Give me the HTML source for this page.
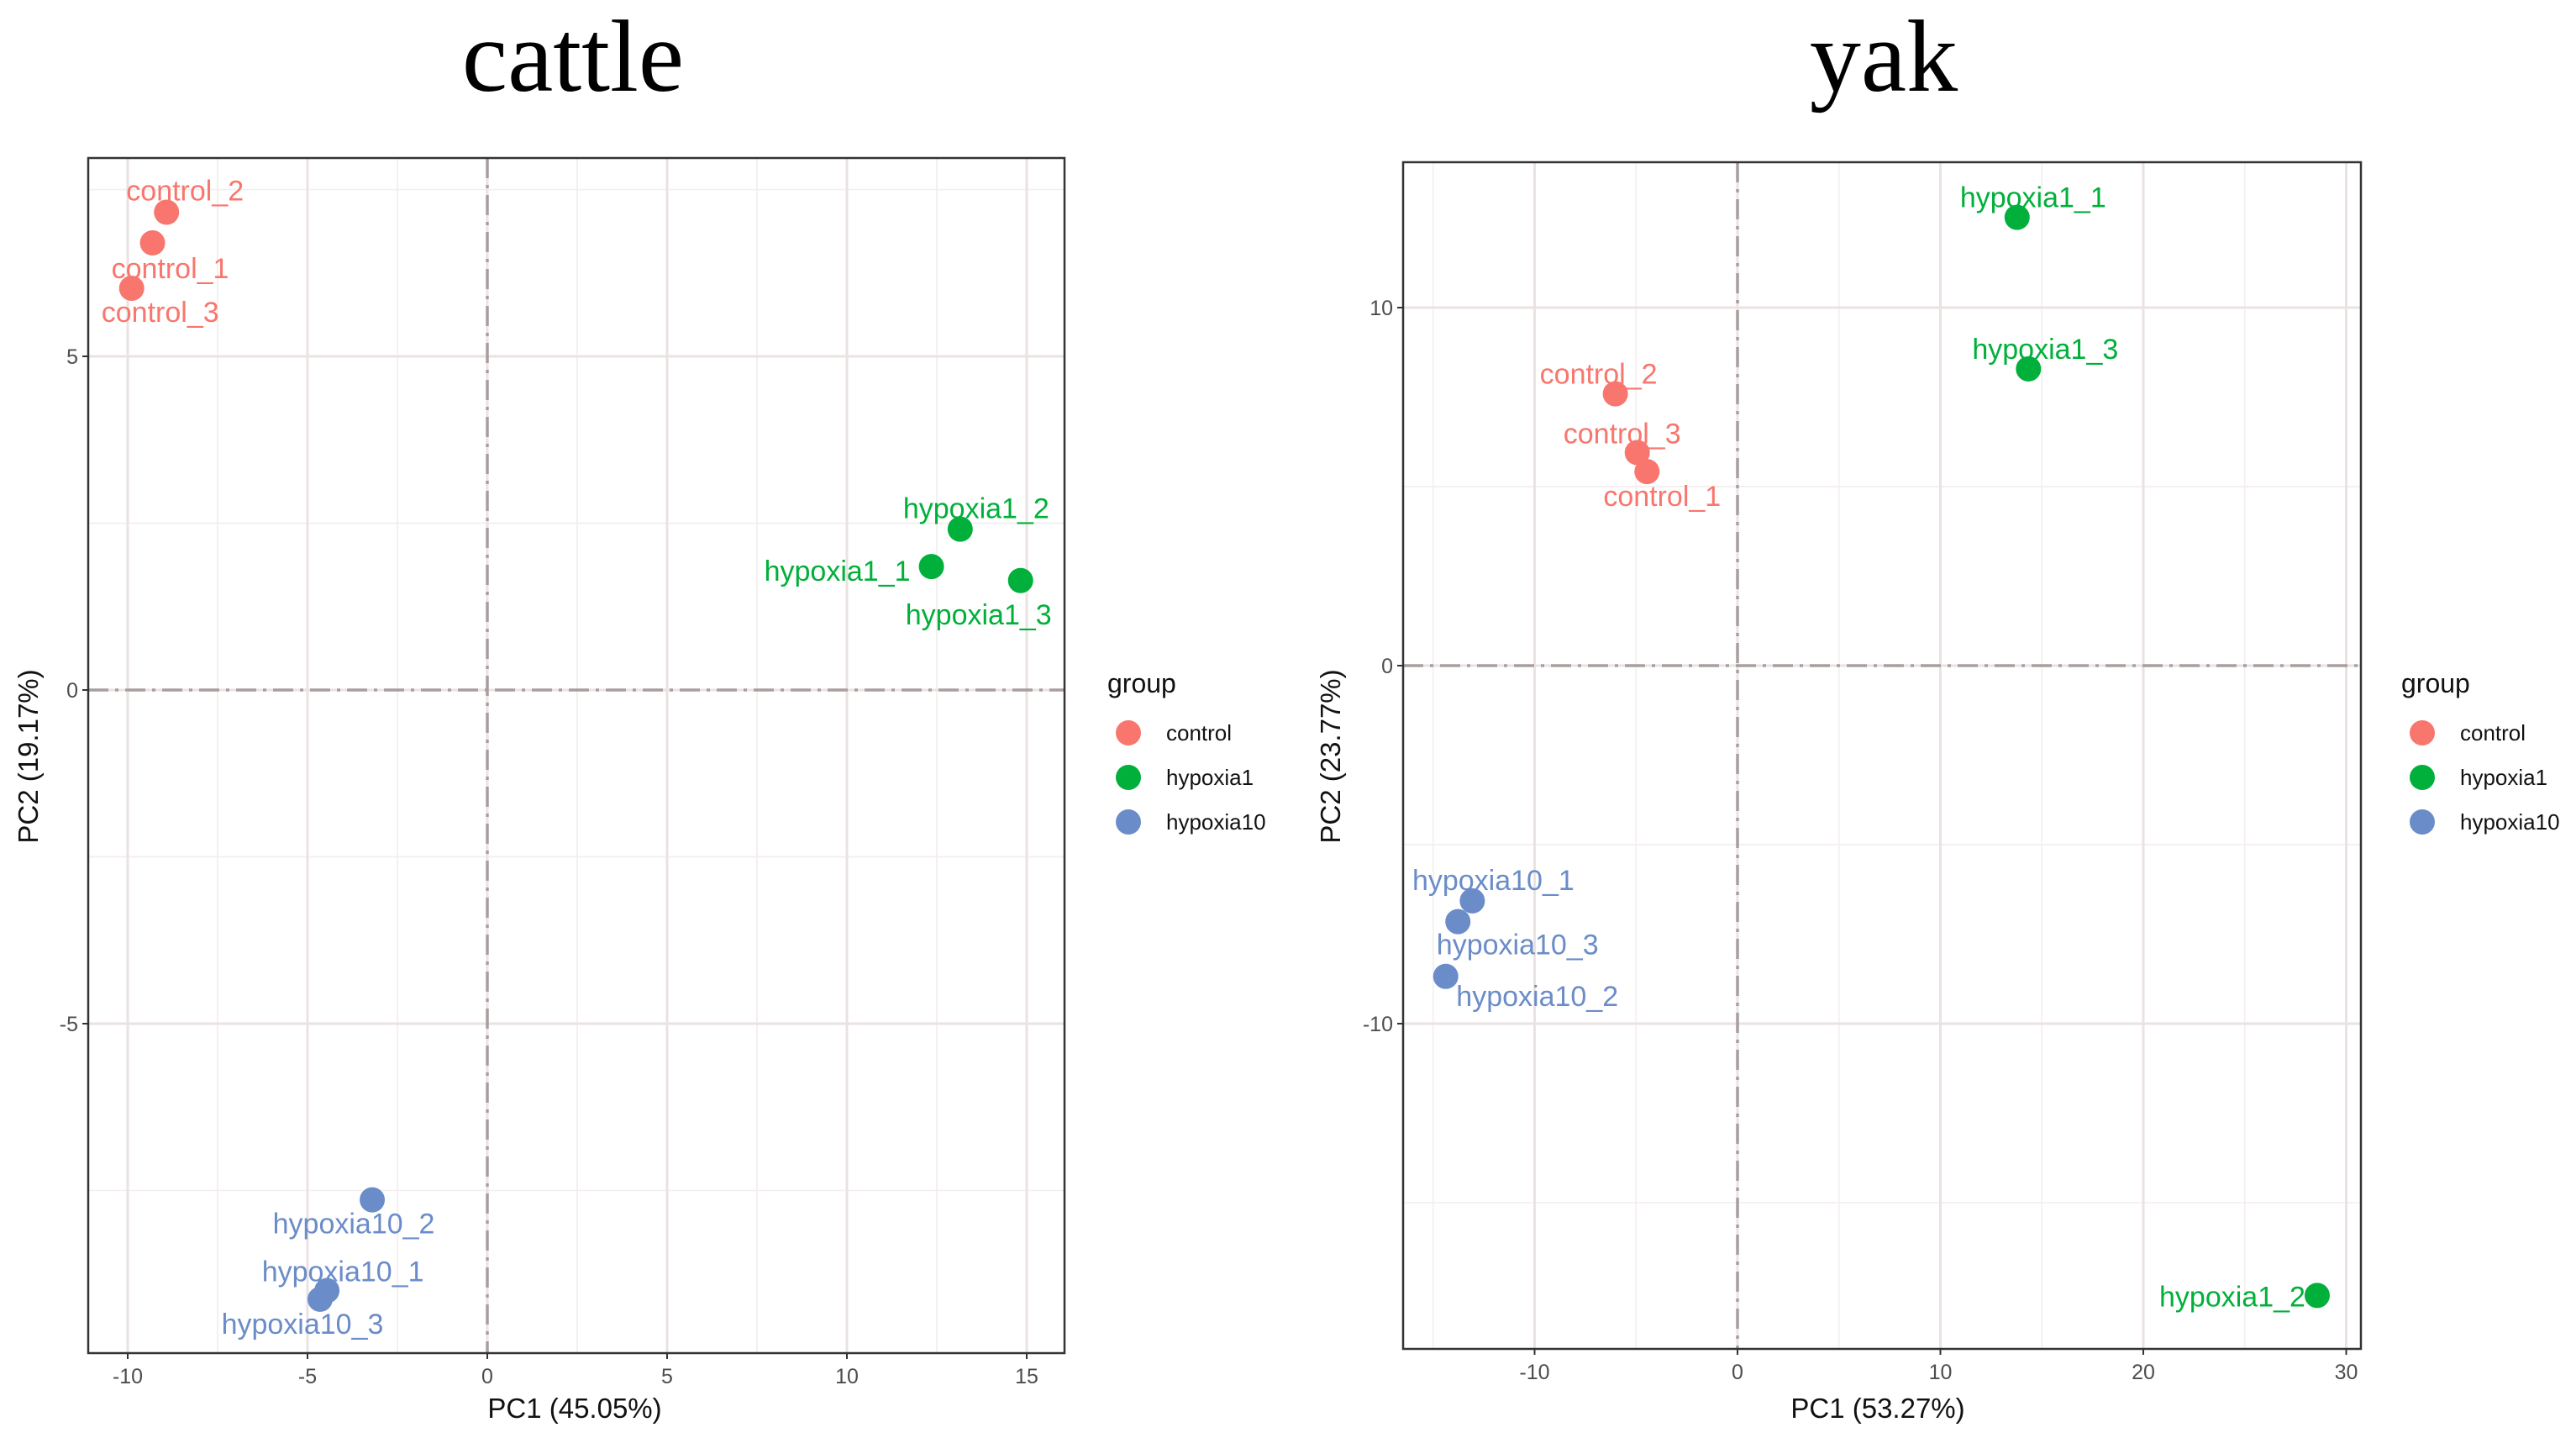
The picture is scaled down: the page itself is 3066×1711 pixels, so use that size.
<!DOCTYPE html>
<html><head><meta charset="utf-8">
<style>
html,body{margin:0;padding:0;background:#fff;}
svg{display:block;font-family:"Liberation Sans",Arial,sans-serif;}
</style></head>
<body>
<svg id="root" width="3066" height="1711" viewBox="0 0 3066 1711" xmlns="http://www.w3.org/2000/svg">
<text x="682" y="108" font-family="Liberation Serif,serif" font-size="122" text-anchor="middle" fill="#000">cattle</text>
<text x="2242" y="108" font-family="Liberation Serif,serif" font-size="122" text-anchor="middle" fill="#000">yak</text>
</svg>
<script>
// ---- data ----
const groups = ["control","hypoxia1","hypoxia10"];
const groupColors = ["#F8766D","#00B03A","#6A8CC8"];

const cattleNames = ["control_2","control_1","control_3","hypoxia1_2","hypoxia1_1","hypoxia1_3","hypoxia10_2","hypoxia10_1","hypoxia10_3"];
const cattleGroup = [0,0,0,1,1,1,2,2,2];
const cattlePC1 = [-8.92,-9.31,-9.89,13.15,12.35,14.83,-3.2,-4.46,-4.65];
const cattlePC2 = [7.16,6.70,6.02,2.41,1.85,1.64,-7.64,-9.0,-9.13];
const cattleXTicks = [-10,-5,0,5,10,15];
const cattleYTicks = [-5,0,5];

const yakNames = ["hypoxia1_1","hypoxia1_3","control_2","control_3","control_1","hypoxia10_1","hypoxia10_3","hypoxia10_2","hypoxia1_2"];
const yakGroup = [1,1,0,0,0,2,2,2,1];
const yakPC1 = [13.78,14.34,-6.02,-4.94,-4.46,-13.07,-13.78,-14.38,28.57];
const yakPC2 = [12.52,8.29,7.59,5.95,5.42,-6.57,-7.15,-8.68,-17.59];
const yakXTicks = [-10,0,10,20,30];
const yakYTicks = [-10,0,10];

// ---- layout (styles) ----
const cattleLabelOff = [[22,-26],[21,30],[34,28],[19,-25],[-112,5],[-50,40],[-22,28],[19,-23],[-21,29]];
const yakLabelOff = [[19,-24],[20,-24],[-20,-24],[-18,-23],[18,29],[25,-25],[71,27],[109,23],[-101,1]];

const NS="http://www.w3.org/2000/svg";
const root=document.getElementById('root');
function mk(tag,attrs,parent){const e=document.createElementNS(NS,tag);for(const k in attrs)e.setAttribute(k,attrs[k]);(parent||root).appendChild(e);return e;}

function panel(cfg){
  const g=mk('g',{});
  
  
  const X=v=>cfg.x0+v*cfg.ux, Y=v=>cfg.y0-v*cfg.uy;
  const L=cfg.left,R=cfg.right,T=cfg.top,B=cfg.bottom;
  mk('rect',{x:L,y:T,width:R-L,height:B-T,fill:'#fff'},g);
  for(let i=0;i<cfg.xTicks.length;i++){
    [cfg.xTicks[i]-cfg.xStep/2, cfg.xTicks[i]+cfg.xStep/2].forEach(v=>{const px=X(v);if(px>L&&px<R){mk('line',{x1:px,x2:px,y1:T,y2:B,stroke:'#f4eeee','stroke-width':1.5},g);}});
  }
  for(let i=0;i<cfg.yTicks.length;i++){
    [cfg.yTicks[i]-cfg.yStep/2, cfg.yTicks[i]+cfg.yStep/2].forEach(v=>{const py=Y(v);if(py>T&&py<B){mk('line',{x1:L,x2:R,y1:py,y2:py,stroke:'#f4eeee','stroke-width':1.5},g);}});
  }
  cfg.xTicks.forEach(v=>{const px=X(v);
    const gl=mk('line',{x1:px,x2:px,y1:T,y2:B,stroke:'#ebe2e2','stroke-width':3},g);
    
    
    mk('line',{x1:px,x2:px,y1:B,y2:B+7,stroke:'#333','stroke-width':2},g);
    const t=mk('text',{x:px,y:B+36,'font-size':25,'text-anchor':'middle',fill:'#4d4d4d'},g);t.textContent=v;
    
    
  });
  cfg.yTicks.forEach(v=>{const py=Y(v);
    const gl=mk('line',{x1:L,x2:R,y1:py,y2:py,stroke:'#ebe2e2','stroke-width':3},g);
    
    
    mk('line',{x1:L-7,x2:L,y1:py,y2:py,stroke:'#333','stroke-width':2},g);
    const t=mk('text',{x:L-12,y:py+9,'font-size':25,'text-anchor':'end',fill:'#4d4d4d'},g);t.textContent=v;
    
    
  });
  const zv=mk('line',{x1:X(0),x2:X(0),y1:T,y2:B,stroke:'#a89e9e','stroke-width':3.5,'stroke-dasharray':'24 8 4 8'},g);
  
  
  const zh=mk('line',{x1:L,x2:R,y1:Y(0),y2:Y(0),stroke:'#a89e9e','stroke-width':3.5,'stroke-dasharray':'24 8 4 8'},g);
  
  
  for(let i=0;i<cfg.names.length;i++){
    const c=groupColors[cfg.grp[i]];
    const px=X(cfg.pc1[i]),py=Y(cfg.pc2[i]);
    const p=mk('circle',{cx:px,cy:py,r:15,fill:c},g);
    
    
    const t=mk('text',{x:px+cfg.off[i][0],y:py+cfg.off[i][1]+12,'font-size':34,'text-anchor':'middle',fill:c},g);
    t.textContent=cfg.names[i];
    
    
  }
  const bd=mk('rect',{x:L,y:T,width:R-L,height:B-T,fill:'none',stroke:'#333','stroke-width':2.5},g);
  
  
  const xt=mk('text',{x:cfg.xTitleX,y:1687,'font-size':33,'text-anchor':'middle',fill:'#111'},g);xt.textContent=cfg.xTitle;
  
  
  const yt=mk('text',{x:0,y:0,'font-size':33,'text-anchor':'middle',fill:'#111',transform:`translate(${cfg.yTitleX},900) rotate(-90)`},g);yt.textContent=cfg.yTitle;
  
  
  const lg=mk('g',{},g);
  
  
  const gt=mk('text',{x:cfg.legX,y:824,'font-size':32,fill:'#111'},lg);gt.textContent='group';
  
  
  groups.forEach((gname,k)=>{
    const yy=872+k*53;
    const d=mk('circle',{cx:cfg.legX+25,cy:yy,r:15,fill:groupColors[k]},lg);
    
    
    const t=mk('text',{x:cfg.legX+70,y:yy+9,'font-size':26,fill:'#111'},lg);t.textContent=gname;
    
    
  });
}

panel({name:'cattle',x0:580,ux:42.8,y0:821,uy:79.4,left:105,right:1267,top:188,bottom:1610,
  xTicks:cattleXTicks,yTicks:cattleYTicks,xStep:5,yStep:5,names:cattleNames,grp:cattleGroup,pc1:cattlePC1,pc2:cattlePC2,off:cattleLabelOff,
  xTitle:'PC1 (45.05%)',yTitle:'PC2 (19.17%)',xTitleX:684,yTitleX:45,legX:1318});
panel({name:'yak',x0:2068,ux:24.15,y0:792,uy:42.6,left:1670,right:2810,top:193,bottom:1605,
  xTicks:yakXTicks,yTicks:yakYTicks,xStep:10,yStep:10,names:yakNames,grp:yakGroup,pc1:yakPC1,pc2:yakPC2,off:yakLabelOff,
  xTitle:'PC1 (53.27%)',yTitle:'PC2 (23.77%)',xTitleX:2235,yTitleX:1595,legX:2858});
</script>
</body></html>
